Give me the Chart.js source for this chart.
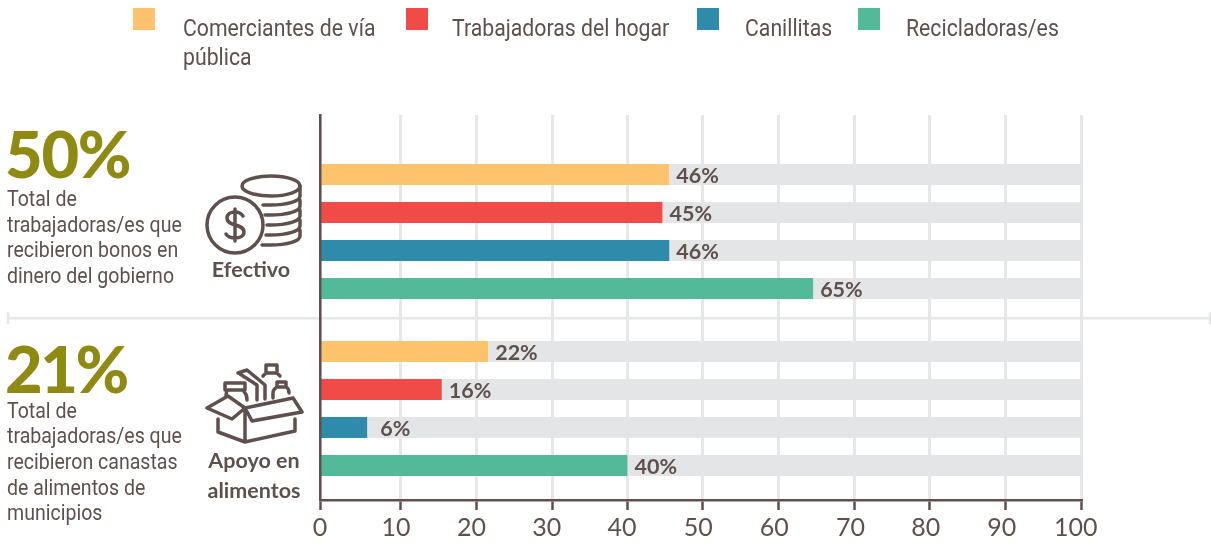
<!DOCTYPE html>
<html lang="es">
<head>
<meta charset="utf-8">
<title>Apoyos a trabajadoras/es</title>
<script src="https://cdn.jsdelivr.net/npm/chart.js"></script>
<style>
  html, body { margin: 0; padding: 0; background: #fff; }
  #wrap { position: relative; width: 1211px; height: 543px; overflow: hidden; color: #5f504e; }
  #wrap canvas { position: absolute; left: 0; top: 0; }
  .abs { position: absolute; white-space: nowrap; }
  .note { font: 400 22px/25.7px Roboto, sans-serif; transform: scaleX(0.888); transform-origin: 0 0; left: 7px; }
  .pct { font: 900 65px/65px Lato, sans-serif; color: #8f8a12; left: 5px; }
  .tag { font: 700 21.5px/30px Lato, sans-serif; text-align: center; transform: translateX(-50%); }
  .swatch { position: absolute; top: 8px; width: 22px; height: 22px; }
  .legend-text { position: absolute; top: 14px; font: 400 24px/29px Roboto, sans-serif; transform: scaleX(0.885); transform-origin: 0 0; white-space: nowrap; }
  svg { position: absolute; left: 0; top: 0; fill: none; stroke: #5f504e; stroke-width: 3.5; stroke-linecap: round; stroke-linejoin: round; }
</style>
</head>
<body>
<div id="wrap">
  <canvas id="chart" width="1211" height="543"></canvas>
  <div id="legend"></div>

  <div class="abs pct" style="top:121px;letter-spacing:-1.3px">50%</div>
  <div class="abs note" style="top:186px">Total de<br>trabajadoras/es que<br>recibieron bonos en<br>dinero del gobierno</div>
  <div class="abs pct" style="top:336px;letter-spacing:-2.5px">21%</div>
  <div class="abs note" style="top:397.5px">Total de<br>trabajadoras/es que<br>recibieron canastas<br>de alimentos de<br>municipios</div>

  <svg width="1211" height="543" viewBox="0 0 1211 543">
    <!-- monedas -->
    <circle cx="235" cy="225" r="28"/>
    <ellipse cx="271" cy="186" rx="29" ry="10"/>
    <path d="M300 186v10c0 5-12 9-30 9h-7M300 200v6c0 5-12 9-30 9h-5M300 210v6c0 5-12 9-30 9h-3M300 220v6c0 5-12 9-30 9h-4M300 230v6c0 5-12 9-30 9h-8"/>
    <path d="M243 216c-2-3-5-4-8-4-4 0-8 2-8 6 0 9 17 5 17 14 0 4-4 6-9 6-4 0-7-1-9-4M235 209v32"/>
    <!-- caja y alimentos -->
    <path d="M207 408l21-12 17 12-13 11zM245 408l48-10 9 14-50 9zM218 419v13l27 10 50-11v-12M245 411v31"/>
    <path d="M226 395l1-5h-2v-7h20v7h-2l2 3c2 2 2 4 2 7M227 390h16M238 373l9-3 18 15v14M257 400v-15l-17-11"/>
    <path d="M263 376l3-3v-8h11v8l3 3M266 373h11M273 398v-5c0-4 3-5 4-6v-5h9v5c2 1 3 3 3 6M277 387h9"/>
  </svg>
  <div class="abs tag" style="left:251px;top:254px">Efectivo</div>
  <div class="abs tag" style="left:254px;top:445px">Apoyo en<br>alimentos</div>
</div>

<script>
const groups = [1, 2]; // Efectivo, Apoyo en alimentos
const xTicks = [0, 10, 20, 30, 40, 50, 60, 70, 80, 90, 100];
// en el original ni las marcas ni los numeros caen justo sobre la escala de las barras
const xTickPlaces = [0, 10.6, 20.6, 30.5, 40.4, 50.3, 60.2, 70.2, 80.1, 90.1, 100];
const xLabelPlaces = [0, 10, 19.9, 29.8, 39.7, 49.7, 59.7, 69.7, 79.6, 89.6, 99.3];

const seriesNames = ['Comerciantes de vía pública', 'Trabajadoras del hogar', 'Canillitas', 'Recicladoras/es'];
const comerciantes = [45.9, 22.1];
const trabajadoras = [45, 16];
const canillitas = [45.9, 6.2];
const recicladoras = [64.8, 40.4];

const colors = ['#fec46d', '#f04b46', '#2e8ba9', '#52b999'];
const legendBoxX = [133, 406, 697, 858];
const legendTextX = [183, 452, 745, 906];
const legendLines = [['Comerciantes de vía', 'pública'], ['Trabajadoras del hogar'], ['Canillitas'], ['Recicladoras/es']];

const TEXT = '#5f504e';
const LIGHT = '#e6e7e8';
const TRACK = '#e4e5e7';

const values = [comerciantes, trabajadoras, canillitas, recicladoras];
const datasets = [];
values.forEach((serie, i) => {
    datasets.push({
        label: seriesNames[i],
        stack: 's' + i,
        backgroundColor: colors[i],
        data: serie.map((v, k) => ({ x: v, y: groups[k] })),
        isValue: true
    });
    // resto hasta 100 en gris
    datasets.push({
        label: seriesNames[i] + ' (resto)',
        stack: 's' + i,
        backgroundColor: TRACK,
        data: serie.map((v, k) => ({ x: 100 - v, y: groups[k] }))
    });
});

const valueLabels = {
    id: 'valueLabels',
    afterDatasetsDraw(chart) {
        const ctx = chart.ctx;
        ctx.save();
        ctx.font = '700 21.5px Lato, sans-serif';
        ctx.fillStyle = TEXT;
        ctx.textBaseline = 'middle';
        chart.data.datasets.forEach((ds, i) => {
            if (!ds.isValue) return;
            chart.getDatasetMeta(i).data.forEach((bar, k) => {
                const v = Math.round(ds.data[k].x);
                ctx.fillText(v + '%', bar.x + (v < 10 ? 13 : 7), bar.y + 2);
            });
        });
        ctx.restore();
    }
};

// linea que separa los dos bloques, de borde a borde
const separator = {
    id: 'separator',
    beforeDraw(chart) {
        const ctx = chart.ctx;
        const y = chart.scales.y.getPixelForValue(1.49);
        ctx.save();
        ctx.strokeStyle = LIGHT;
        ctx.lineWidth = 2.5;
        ctx.beginPath();
        ctx.moveTo(8, y);
        ctx.lineTo(1210, y);
        ctx.moveTo(8, y - 6);
        ctx.lineTo(8, y + 6);
        ctx.moveTo(1210, y - 6);
        ctx.lineTo(1210, y + 6);
        ctx.stroke();
        ctx.restore();
    }
};

const chart = new Chart(document.getElementById('chart'), {
    type: 'bar',
    data: { datasets },
    options: {
        indexAxis: 'y',
        responsive: false,
        animation: false,
        categoryPercentage: 0.859,
        barPercentage: 0.553,
        layout: { padding: { left: 320, right: 130, top: 115, bottom: 0 } },
        plugins: { legend: { display: false }, tooltip: { enabled: false } },
        scales: {
            // numeros del eje
            x: {
                type: 'linear',
                stacked: true,
                min: 0,
                max: 100,
                weight: 1,
                afterBuildTicks(scale) { scale.ticks = xLabelPlaces.map(value => ({ value })); },
                afterFit(scale) { scale.height = 43; },
                border: { display: false },
                grid: { display: false },
                ticks: {
                    color: TEXT,
                    padding: 5,
                    maxRotation: 0,
                    autoSkip: false,
                    font: { family: 'Lato, sans-serif', size: 25 },
                    callback: (value, index) => xTicks[index]
                }
            },
            // rejilla y marcas del eje
            xMarks: {
                type: 'linear',
                axis: 'x',
                position: 'bottom',
                min: 0,
                max: 100,
                weight: 0,
                afterBuildTicks(scale) { scale.ticks = xTickPlaces.map(value => ({ value })); },
                afterFit(scale) { scale.height = 0; },
                border: { color: TEXT, width: 2.5 },
                grid: { color: LIGHT, lineWidth: 3, tickColor: TEXT, tickLength: 10, tickWidth: 2.5 },
                ticks: { display: false }
            },
            y: {
                type: 'linear',
                reverse: true,
                offset: false,
                min: 0.342,
                max: 2.517,
                afterFit(scale) { scale.width = 0; },
                border: { color: TEXT, width: 2.5, z: 1 },
                grid: { offset: false, drawOnChartArea: false, drawTicks: false },
                ticks: { display: false, stepSize: 1, includeBounds: false }
            }
        }
    },
    plugins: [separator, valueLabels]
});

// leyenda con los colores de las series
const legend = document.getElementById('legend');
seriesNames.forEach((name, i) => {
    const box = document.createElement('div');
    box.className = 'swatch';
    box.style.left = legendBoxX[i] + 'px';
    box.style.background = colors[i];
    legend.appendChild(box);
    const text = document.createElement('div');
    text.className = 'legend-text';
    text.style.left = legendTextX[i] + 'px';
    text.innerHTML = legendLines[i].join('<br>');
    legend.appendChild(text);
});
</script>
</body>
</html>
